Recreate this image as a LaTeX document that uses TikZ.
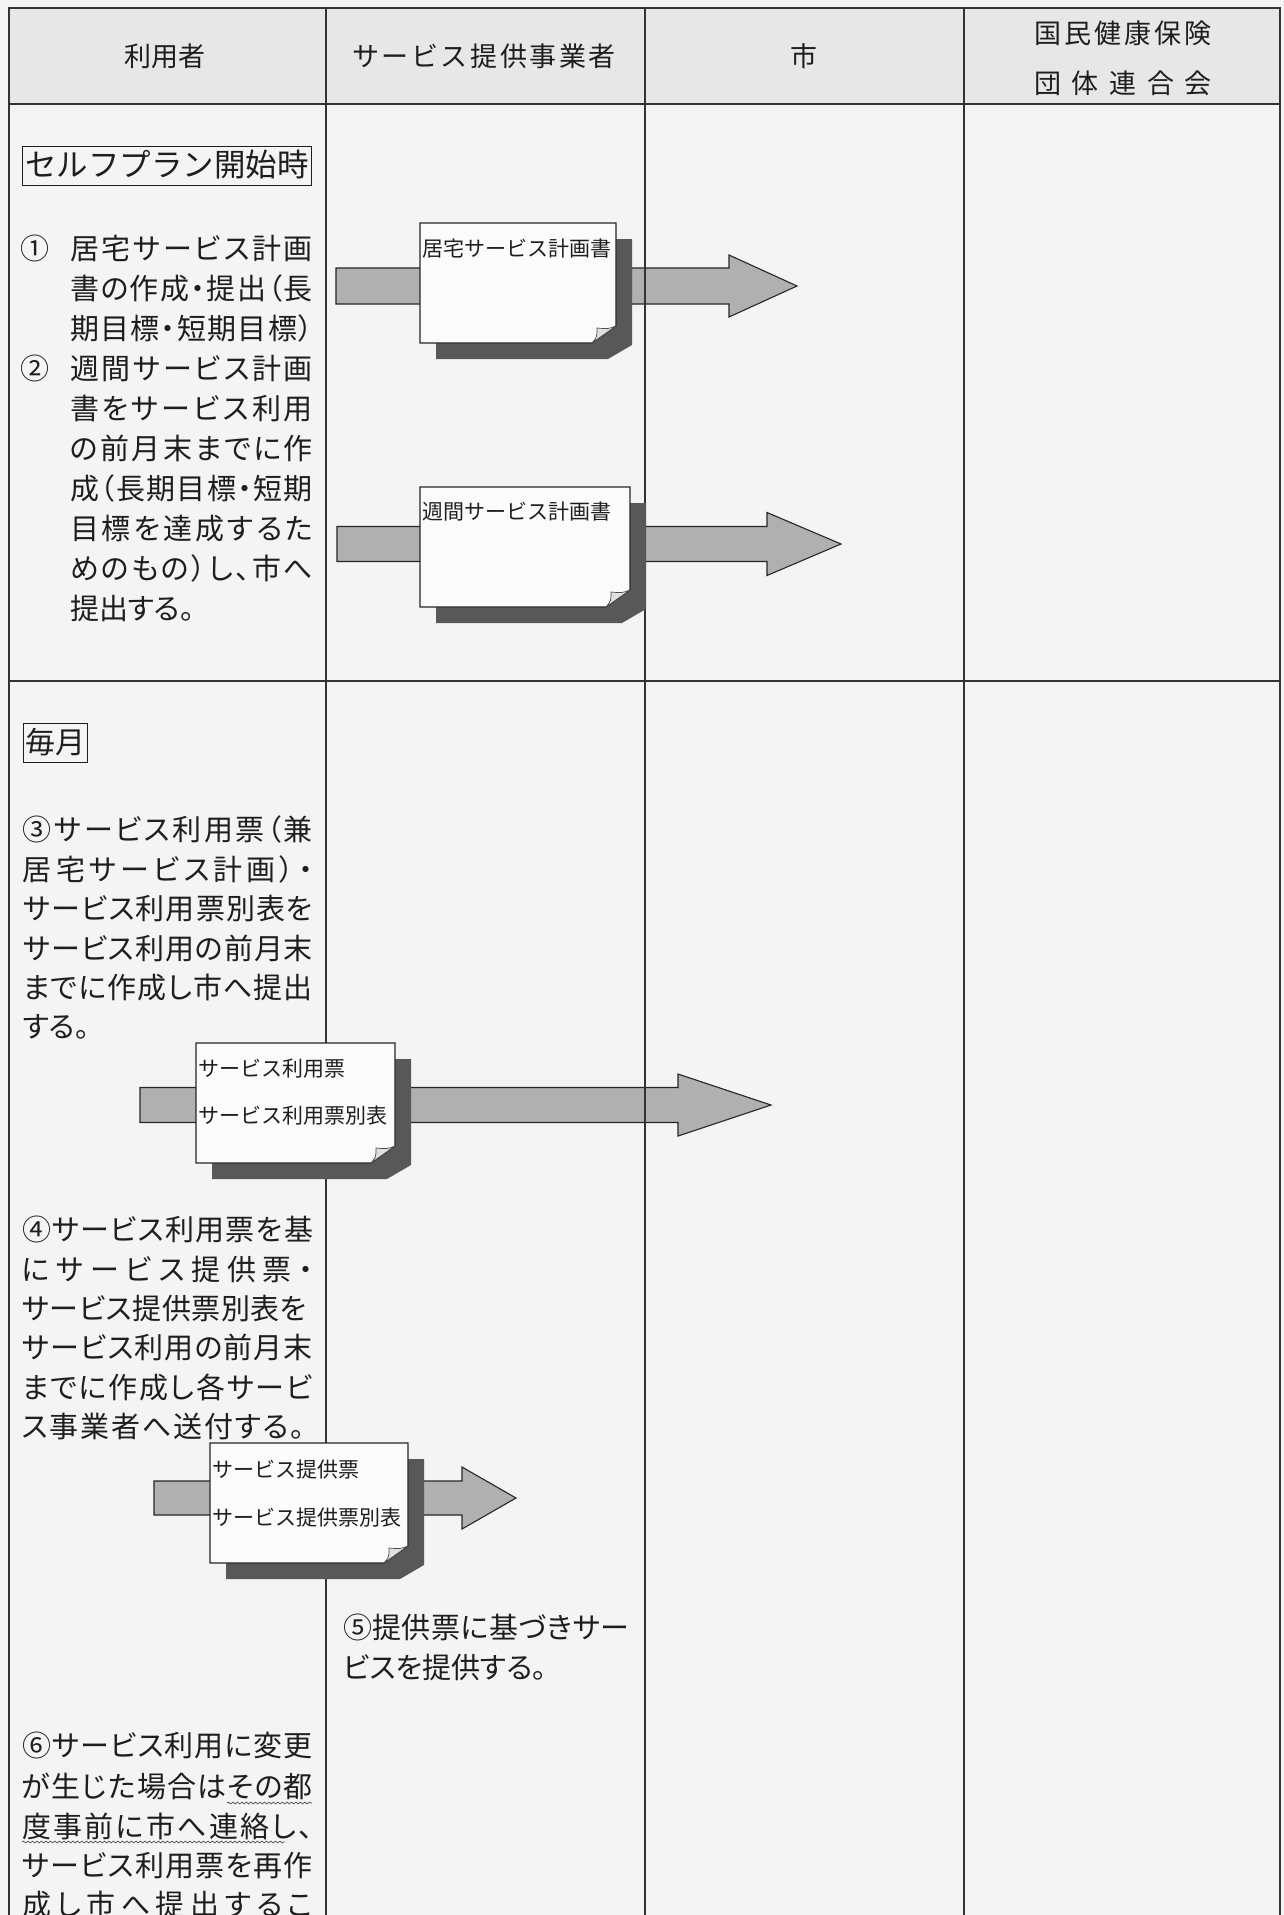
\documentclass[tikz,border=0pt]{standalone}
\usepackage{fontspec}
\newfontfamily\jp{Noto Sans CJK JP}
\newfontfamily\jpp{Noto Sans CJK JP}[RawFeature=+palt]
\usetikzlibrary{calc,decorations.pathmorphing}
\definecolor{pagebg}{HTML}{F4F4F4}
\definecolor{headbg}{HTML}{E7E7E7}
\definecolor{arrowgray}{HTML}{B0B0B0}
\definecolor{shadowc}{HTML}{585858}
\definecolor{txt}{HTML}{1E1E1E}
\definecolor{docfill}{HTML}{FBFBFB}
\definecolor{flapc}{HTML}{E0E0E0}
\def\SpA#1{#1\SpB}
\def\SpB#1{\ifx\relax#1\else\hfil#1\expandafter\SpB\fi}
\newcommand\spreadto[2]{\hbox to #1{\SpA#2\relax}}
\newcommand\blockarrow[5]{%
  \draw[arr] let \p1=(#1), \p2=(#2) in
    (\x1,\y1+#3pt) -- (\x2-#5pt,\y1+#3pt) -- (\x2-#5pt,\y1+#4pt) -- (\x2,\y1)
    -- (\x2-#5pt,\y1-#4pt) -- (\x2-#5pt,\y1-#3pt) -- (\x1,\y1-#3pt) -- cycle;}
\newcommand\docshape[1]{%
  \fill[shadowc] ([xshift=16pt,yshift=-16pt]#1.north west) -- ([xshift=16pt,yshift=-16pt]#1.north east)
    -- ([xshift=16pt,yshift=-2pt]#1.south east) -- ([xshift=-8pt,yshift=-16pt]#1.south east)
    -- ([xshift=16pt,yshift=-16pt]#1.south west) -- cycle;
  \draw[docline] (#1.north west) -- (#1.north east) -- ([yshift=17pt]#1.south east)
    -- ([xshift=-24pt]#1.south east) -- (#1.south west) -- cycle;
  \draw[flapline] ([yshift=17pt]#1.south east) .. controls ([xshift=-8pt,yshift=14pt]#1.south east)
    .. ([xshift=-19pt,yshift=15pt]#1.south east) .. controls ([xshift=-19pt,yshift=6pt]#1.south east)
    .. ([xshift=-24pt]#1.south east) -- cycle;}
\tikzset{
  lt/.style={inner sep=0pt, outer sep=0pt, anchor=west, text height=23pt, text depth=3pt, text=txt, font=\jpp\fontsize{29pt}{29pt}\selectfont},
  dt/.style={inner sep=0pt, outer sep=0pt, anchor=west, text height=17pt, text depth=2pt, text=txt, font=\jp\fontsize{21pt}{21pt}\selectfont},
  hd/.style={inner sep=0pt, outer sep=0pt, text height=21pt, text depth=3pt, text=txt, font=\jp\fontsize{27pt}{27pt}\selectfont},
  tagbox/.style={draw=txt, line width=1.1pt, inner sep=0pt, anchor=north west, text height=24pt, text depth=4pt, text=txt, font=\jp\fontsize{31.5pt}{31.5pt}\selectfont},
  tbl/.style={draw=black!80, line width=1.3pt},
  arr/.style={draw=black!85, line width=1.1pt, fill=arrowgray, line join=miter},
  docnode/.style={inner sep=0pt, outer sep=0pt, anchor=north west},
  docline/.style={draw=black!85, line width=1.1pt, fill=docfill},
  flapline/.style={draw=black!70, line width=0.7pt, fill=flapc},
  wavy/.style={draw=black!70, line width=0.7pt, decorate, decoration={snake, amplitude=0.9pt, segment length=4.5pt}},
}
\begin{document}
\begin{tikzpicture}[x=1pt,y=-1pt]
\useasboundingbox (0,0) rectangle (1284,1915);
\fill[pagebg] (0,0) rectangle (1284,1915);
\fill[headbg] (9,8) rectangle (1280,104);

% block arrows (behind documents)
\coordinate (a1s) at (336,286); \coordinate (a1e) at (797,286);
\coordinate (a2s) at (337,544); \coordinate (a2e) at (841,544);
\coordinate (a3s) at (140,1105); \coordinate (a3e) at (771,1105);
\coordinate (a4s) at (154,1498); \coordinate (a4e) at (516,1498);
\blockarrow{a1s}{a1e}{18}{31}{68}
\blockarrow{a2s}{a2e}{17.5}{31.5}{74}
\blockarrow{a3s}{a3e}{17.5}{31}{93}
\blockarrow{a4s}{a4e}{17}{31}{54}

% table grid
\draw[tbl] (9,1915) -- (9,8) -- (1280,8) -- (1280,1915);
\draw[tbl] (9,104) -- (1280,104);
\draw[tbl] (9,681) -- (1280,681);
\foreach \x in {326,645,964} \draw[tbl] (\x,8) -- (\x,1915);

% header
\node[hd] (h1) at (165,57) {利用者};
\node[hd] (h2) at (484,57) {\spreadto{264pt}{サービス提供事業者}};
\node[hd] (h3) at (804,57) {市};
\node[hd] (h4a) at (1123,34) {\spreadto{178pt}{国民健康保険}};
\node[hd] (h4b) at (1123,84) {\spreadto{178pt}{団体連合会}};

% documents
\node[docnode, minimum width=196pt, minimum height=120pt] (d1) at (420,223) {};
\node[docnode, minimum width=210pt, minimum height=120pt] (d2) at (420,487) {};
\node[docnode, minimum width=199pt, minimum height=120pt] (d3) at (196,1043) {};
\node[docnode, minimum width=198pt, minimum height=120pt] (d4) at (210,1443) {};
\docshape{d1}
\docshape{d2}
\docshape{d3}
\docshape{d4}
\node[dt] (d1t) at (422,249) {居宅サービス計画書};
\node[dt] (d2t) at (422,512) {週間サービス計画書};
\node[dt] (d3a) at (198,1069) {サービス利用票};
\node[dt] (d3b) at (198,1116) {サービス利用票別表};
\node[dt] (d4a) at (212,1470) {サービス提供票};
\node[dt] (d4b) at (212,1518) {サービス提供票別表};

% section 1
\node[tagbox, minimum width=289pt, minimum height=39pt] (tag1) at (22,146) {セルフプラン開始時};
\node[lt] (n1) at (20,249) {①};
\node[lt] (s1l1) at (70,249) {\spreadto{243pt}{居宅サービス計画}};
\node[lt] (s1l2) at (70,289) {\spreadto{243pt}{書の作成・提出（長}};
\node[lt] (s1l3) at (70,329) {\spreadto{243pt}{期目標・短期目標）}};
\node[lt] (n2) at (20,369) {②};
\node[lt] (s1l4) at (70,369) {\spreadto{243pt}{週間サービス計画}};
\node[lt] (s1l5) at (70,409) {\spreadto{243pt}{書をサービス利用}};
\node[lt] (s1l6) at (70,449) {\spreadto{243pt}{の前月末までに作}};
\node[lt] (s1l7) at (70,489) {\spreadto{243pt}{成（長期目標・短期}};
\node[lt] (s1l8) at (70,529) {\spreadto{243pt}{目標を達成するた}};
\node[lt] (s1l9) at (70,569) {\spreadto{243pt}{めのもの）し、市へ}};
\node[lt] (s1l10) at (70,609) {提出する。};

% section 2
\node[tagbox, minimum width=64pt, minimum height=39pt, font=\jp\fontsize{30pt}{30pt}\selectfont] (tag2) at (23,723) {毎月};
\node[lt] (s3l1) at (23,830) {\spreadto{290pt}{③サービス利用票（兼}};
\node[lt] (s3l2) at (23,870) {\spreadto{290pt}{居宅サービス計画）・}};
\node[lt] (s3l3) at (23,909) {\spreadto{290pt}{サービス利用票別表を}};
\node[lt] (s3l4) at (23,949) {\spreadto{290pt}{サービス利用の前月末}};
\node[lt] (s3l5) at (23,988) {\spreadto{290pt}{までに作成し市へ提出}};
\node[lt] (s3l6) at (23,1027) {する。};

\node[lt] (s4l1) at (22,1230) {\spreadto{291pt}{④サービス利用票を基}};
\node[lt] (s4l2) at (22,1270) {\spreadto{291pt}{にサービス提供票・}};
\node[lt] (s4l3) at (22,1309) {\spreadto{285pt}{サービス提供票別表を}};
\node[lt] (s4l4) at (22,1348) {\spreadto{291pt}{サービス利用の前月末}};
\node[lt] (s4l5) at (22,1388) {\spreadto{291pt}{までに作成し各サービ}};
\node[lt] (s4l6) at (22,1427) {\spreadto{283pt}{ス事業者へ送付する。}};

\node[lt] (s5l1) at (343,1628) {\spreadto{286pt}{⑤提供票に基づきサー}};
\node[lt] (s5l2) at (343,1668) {ビスを提供する。};

\node[lt] (s6l1) at (22,1746) {\spreadto{291pt}{⑥サービス利用に変更}};
\node[lt] (s6l2) at (22,1787) {\spreadto{291pt}{が生じた場合はその都}};
\node[lt] (s6l3) at (22,1827) {\spreadto{291pt}{度事前に市へ連絡し、}};
\node[lt] (s6l4) at (22,1866) {\spreadto{291pt}{サービス利用票を再作}};
\node[lt] (s6l5) at (22,1905) {\spreadto{291pt}{成し市へ提出するこ}};
\draw[wavy] (227,1803) -- (312,1803);
\draw[wavy] (22,1842) -- (285,1842);
\end{tikzpicture}
\end{document}
